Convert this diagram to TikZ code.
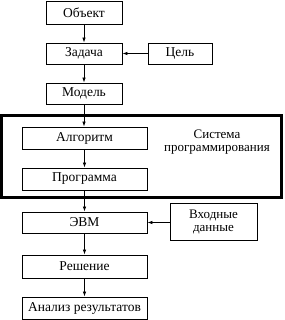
\documentclass[tikz,border=0pt]{standalone}
\usepackage{fontspec}
\setmainfont{Liberation Serif}
\usetikzlibrary{arrows.meta}
\begin{document}
\begin{tikzpicture}[x=1pt,y=1pt,
  box/.style={draw, line width=0.9pt, inner sep=0pt, font=\fontsize{13.5}{15}\selectfont},
  twoline/.style={align=center, font=\fontsize{13}{13}\selectfont},
  arr/.style={line width=0.7pt, -{Latex[length=5pt,width=3.5pt]}}]
\useasboundingbox (0,0) rectangle (284,-320);
\node[box, minimum width=76, minimum height=23] (obj) at (84,-12.5) {Объект};
\node[box, minimum width=76, minimum height=21] (task) at (84,-53.5) {Задача};
\node[box, minimum width=64, minimum height=21] (goal) at (180,-53.5) {Цель};
\node[box, minimum width=76, minimum height=21] (model) at (84,-93.5) {Модель};
\node[box, minimum width=125, minimum height=22] (algo) at (84.5,-138) {Алгоритм};
\node[box, minimum width=125, minimum height=22] (prog) at (84.5,-179) {Программа};
\node[box, minimum width=125, minimum height=21] (evm) at (84.5,-222.5) {ЭВМ};
\node[box, twoline, minimum width=87, minimum height=37] (input) at (213.5,-221.5) {Входные\\данные};
\node[box, minimum width=125, minimum height=23] (sol) at (84.5,-266.5) {Решение};
\node[box, minimum width=125, minimum height=22] (anal) at (84.5,-308) {Анализ результатов};
\node[twoline] (sys) at (217,-142) {Система\\программирования};
\draw[line width=3pt] (1.5,-115.5) rectangle (281.5,-197.5);
\draw[arr] (obj) -- (task);
\draw[arr] (goal) -- (task);
\draw[arr] (task) -- (model);
\draw[arr] (model.south) -- (model.south |- algo.north);
\draw[arr] (algo.south) -- (prog.north);
\draw[arr] (prog.south) -- (evm.north);
\draw[arr] (input.west |- evm.east) -- (evm.east);
\draw[arr] (evm) -- (sol);
\draw[arr] (sol) -- (anal);
\end{tikzpicture}
\end{document}
